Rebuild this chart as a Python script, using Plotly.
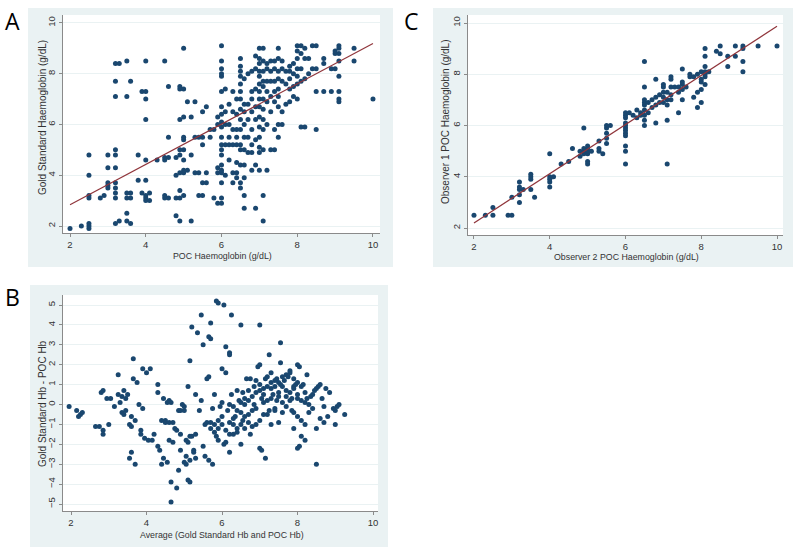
import plotly.graph_objects as go

# ---------------- data ----------------
# Panel A: POC Haemoglobin (x) vs Gold standard Haemoglobin (y)
a_points = [
    (2.0, 1.9), (2.3, 2.0), (2.5, 1.9), (2.5, 2.0), (2.5, 2.1), (2.5, 3.1), (2.5, 3.2), (2.5, 4.0), (2.5, 4.8),
    (2.8, 3.1), (2.9, 3.2), (3.0, 3.5), (3.0, 3.6), (3.0, 3.7), (3.0, 4.3), (3.0, 4.8),
    (3.2, 2.1), (3.2, 3.1), (3.2, 3.3), (3.2, 3.5), (3.2, 3.7), (3.2, 4.3), (3.2, 4.8), (3.2, 5.0),
    (3.2, 7.1), (3.2, 7.7), (3.2, 8.4), (3.3, 8.4), (3.3, 2.2),
    (3.5, 2.2), (3.5, 2.5), (3.5, 3.1), (3.5, 3.3), (3.5, 7.1), (3.5, 8.5),
    (3.6, 2.1), (3.6, 3.1), (3.6, 3.3), (3.6, 7.7), (3.8, 3.8), (3.8, 4.8), (3.9, 3.3), (3.9, 7.3),
    (4.0, 3.0), (4.0, 3.1), (4.0, 3.2), (4.0, 3.8), (4.0, 4.6), (4.0, 6.2), (4.0, 7.0), (4.0, 7.3), (4.0, 8.5),
    (4.1, 3.0), (4.1, 3.3), (4.3, 4.6), (4.5, 3.1), (4.5, 3.2), (4.5, 4.6), (4.5, 4.7), (4.5, 8.5),
    (4.6, 3.1), (4.6, 4.7), (4.6, 5.5), (4.6, 7.5), (4.8, 2.4), (4.8, 3.1), (4.8, 4.0), (4.8, 4.7),
    (4.9, 2.2), (4.9, 3.1), (4.9, 3.4), (4.9, 4.1), (4.9, 4.8), (4.9, 5.0), (4.9, 6.2), (4.9, 7.4), (4.9, 7.5),
    (5.0, 3.2), (5.0, 4.1), (5.0, 4.2), (5.0, 4.6), (5.0, 5.0), (5.0, 5.4), (5.0, 5.5), (5.0, 6.3), (5.0, 7.4), (5.0, 9.0),
    (5.1, 4.2), (5.1, 6.9), (5.2, 2.2), (5.2, 4.8), (5.2, 6.3), (5.3, 5.5), (5.3, 6.9), (5.3, 4.1),
    (5.4, 3.2), (5.4, 4.1), (5.4, 5.5), (5.5, 3.2), (5.5, 3.7), (5.5, 5.2), (5.5, 5.5), (5.5, 6.5),
    (5.6, 3.7), (5.6, 4.1), (5.6, 6.7), (5.7, 5.5), (5.7, 5.8), (5.8, 3.1), (5.8, 5.8),
    (5.9, 2.9), (5.9, 4.1), (5.9, 4.3), (5.9, 6.3), (5.9, 6.0),
    (6.0, 2.9), (6.0, 3.1), (6.0, 3.7), (6.0, 4.1), (6.0, 4.2), (6.0, 4.4), (6.0, 4.8), (6.0, 5.0), (6.0, 5.2),
    (6.0, 5.5), (6.0, 5.9), (6.0, 6.1), (6.0, 6.4), (6.0, 6.7), (6.0, 7.3), (6.0, 7.9), (6.0, 8.0), (6.0, 8.2),
    (6.0, 8.5), (6.0, 9.1),
    (6.1, 4.0), (6.1, 5.2), (6.1, 6.0), (6.1, 6.5), (6.1, 7.4), (6.2, 4.6), (6.2, 5.2), (6.2, 5.5), (6.2, 6.0), (6.2, 6.8),
    (6.3, 3.7), (6.3, 4.1), (6.3, 5.2), (6.3, 5.8), (6.3, 6.5), (6.3, 7.3),
    (6.4, 3.9), (6.4, 4.1), (6.4, 4.5), (6.4, 5.2), (6.4, 5.5), (6.4, 5.8), (6.4, 6.4), (6.4, 7.0),
    (6.5, 3.5), (6.5, 3.7), (6.5, 4.4), (6.5, 5.0), (6.5, 5.2), (6.5, 5.8), (6.5, 6.2), (6.5, 6.6), (6.5, 7.0),
    (6.5, 7.3), (6.5, 7.6), (6.5, 7.9), (6.5, 8.1), (6.5, 8.3), (6.5, 8.6),
    (6.6, 2.7), (6.6, 3.2), (6.6, 3.9), (6.6, 4.4), (6.6, 5.0), (6.6, 5.5), (6.6, 6.0), (6.6, 6.5), (6.6, 6.8), (6.6, 7.8),
    (6.7, 4.9), (6.7, 5.5), (6.7, 6.2), (6.7, 6.8), (6.7, 8.0),
    (6.8, 4.2), (6.8, 4.9), (6.8, 5.2), (6.8, 5.8), (6.8, 6.5), (6.8, 7.0), (6.8, 7.3), (6.8, 8.1),
    (6.9, 2.7), (6.9, 4.4), (6.9, 5.4), (6.9, 6.2), (6.9, 6.7), (6.9, 7.4), (6.9, 8.2), (6.9, 8.7),
    (7.0, 4.2), (7.0, 4.9), (7.0, 5.1), (7.0, 5.5), (7.0, 5.9), (7.0, 6.3), (7.0, 6.7), (7.0, 7.0), (7.0, 7.3),
    (7.0, 7.6), (7.0, 7.9), (7.0, 8.1), (7.0, 8.4), (7.0, 8.6), (7.0, 9.0),
    (7.1, 2.2), (7.1, 3.2), (7.1, 5.0), (7.1, 5.8), (7.1, 6.2), (7.1, 6.6), (7.1, 7.0), (7.1, 7.5), (7.1, 7.7),
    (7.1, 8.1), (7.1, 8.5), (7.1, 9.0),
    (7.2, 4.2), (7.2, 6.0), (7.2, 6.9), (7.2, 7.3), (7.2, 7.7), (7.2, 8.2), (7.2, 8.4),
    (7.3, 5.0), (7.3, 6.5), (7.3, 7.1), (7.3, 7.7), (7.3, 8.1), (7.3, 8.5),
    (7.4, 5.0), (7.4, 5.8), (7.4, 6.9), (7.4, 7.3), (7.4, 7.7), (7.4, 8.2), (7.4, 8.5),
    (7.5, 5.5), (7.5, 6.0), (7.5, 6.7), (7.5, 7.1), (7.5, 7.4), (7.5, 7.8), (7.5, 8.1), (7.5, 8.6), (7.5, 9.0),
    (7.6, 6.0), (7.6, 6.5), (7.6, 7.7), (7.6, 8.2), (7.6, 8.5), (7.7, 6.8), (7.7, 7.6), (7.7, 8.1),
    (7.8, 6.9), (7.8, 7.4), (7.8, 7.8), (7.8, 8.1), (7.8, 8.3), (7.9, 7.1), (7.9, 7.5), (7.9, 8.0), (7.9, 8.4),
    (8.0, 7.0), (8.0, 7.6), (8.0, 7.9), (8.0, 8.2), (8.0, 8.6), (8.0, 8.9), (8.0, 9.1),
    (8.1, 5.9), (8.1, 7.7), (8.1, 8.2), (8.1, 8.8), (8.1, 9.1), (8.2, 5.9), (8.2, 7.8), (8.2, 8.6), (8.2, 9.0),
    (8.3, 8.0), (8.3, 8.6), (8.4, 8.2), (8.4, 9.1), (8.5, 5.8), (8.5, 7.3), (8.5, 8.2), (8.5, 9.1),
    (8.7, 7.3), (8.7, 8.4), (8.7, 8.6), (8.9, 8.2), (8.9, 7.3), (9.0, 8.8), (9.0, 8.9), (9.0, 8.2),
    (9.1, 6.9), (9.1, 7.0), (9.1, 7.3), (9.1, 7.9), (9.1, 8.5), (9.1, 8.8), (9.1, 9.0), (9.1, 9.1),
    (9.5, 8.5), (9.5, 9.0), (10.0, 7.0),
]
a_fit_x = [2.0, 10.0]
a_fit_y = [2.84, 9.19]

# Panel C: Observer 2 POC Hb (x) vs Observer 1 POC Hb (y)
c_points = [
    (2.0, 2.5), (2.3, 2.5), (2.5, 2.5), (2.5, 2.8), (2.9, 2.5), (3.0, 2.5), (3.0, 3.2),
    (3.2, 3.0), (3.2, 3.3), (3.2, 3.5), (3.2, 3.6), (3.2, 3.8), (3.3, 3.5),
    (3.5, 3.5), (3.5, 3.9), (3.5, 4.0), (3.5, 4.1), (3.6, 3.2),
    (4.0, 3.6), (4.0, 3.8), (4.0, 3.9), (4.0, 4.0), (4.0, 4.9), (4.1, 4.0),
    (4.3, 4.5), (4.5, 4.6), (4.6, 5.1),
    (4.8, 4.8), (4.8, 5.0), (4.9, 4.9), (4.9, 5.0), (4.9, 5.1), (4.9, 5.9), (5.0, 4.5), (5.0, 4.6), (5.0, 4.9),
    (5.0, 5.0), (5.0, 5.1), (5.0, 5.2), (5.1, 5.0),
    (5.3, 5.0), (5.3, 5.1), (5.3, 5.4), (5.4, 4.9),
    (5.5, 5.3), (5.5, 5.5), (5.5, 5.7), (5.5, 5.9), (5.5, 6.0), (5.6, 6.0),
    (6.0, 4.5), (6.0, 5.0), (6.0, 5.2), (6.0, 5.6), (6.0, 5.7), (6.0, 5.8), (6.0, 5.9), (6.0, 6.0), (6.0, 6.1),
    (6.0, 6.3), (6.0, 6.4), (6.0, 6.5),
    (6.1, 6.5), (6.2, 6.4), (6.3, 6.3), (6.3, 6.6), (6.4, 6.4), (6.4, 6.5),
    (6.5, 6.0), (6.5, 6.2), (6.5, 6.4), (6.5, 6.6), (6.5, 6.8), (6.5, 6.9), (6.5, 7.0), (6.5, 7.5), (6.5, 8.5),
    (6.6, 6.5), (6.6, 6.9), (6.7, 6.7), (6.7, 7.0), (6.8, 6.1), (6.8, 6.8), (6.8, 7.1), (6.8, 7.8),
    (6.9, 6.9), (6.9, 7.2), (7.0, 6.9), (7.0, 7.1), (7.0, 7.3), (7.0, 7.5), (7.0, 7.6),
    (7.1, 4.5), (7.1, 6.2), (7.1, 6.8), (7.1, 7.0), (7.1, 7.3),
    (7.2, 7.0), (7.2, 7.2), (7.2, 7.5), (7.2, 7.8), (7.2, 7.9), (7.3, 7.5),
    (7.4, 6.5), (7.4, 7.3), (7.4, 7.5), (7.5, 7.0), (7.5, 7.4), (7.5, 7.6), (7.5, 7.7), (7.5, 8.2),
    (7.6, 7.5), (7.7, 7.9), (7.7, 8.0), (7.8, 7.1), (7.8, 7.9), (7.9, 6.7), (7.9, 7.3), (7.9, 8.0),
    (8.0, 6.9), (8.0, 7.4), (8.0, 7.7), (8.0, 7.8), (8.0, 8.1),
    (8.1, 7.6), (8.1, 7.9), (8.1, 8.0), (8.1, 8.1), (8.1, 8.3), (8.1, 8.7), (8.1, 9.0), (8.2, 8.1),
    (8.4, 8.9), (8.5, 8.8), (8.5, 9.1), (8.7, 8.3), (8.7, 8.7), (8.9, 8.7), (8.9, 9.1),
    (9.1, 8.1), (9.1, 8.5), (9.1, 9.0), (9.1, 9.1), (9.5, 9.1), (10.0, 9.1),
]
c_fit_x = [2.0, 10.0]
c_fit_y = [2.2, 9.87]

# Panel B: Bland-Altman, average (x) vs difference (y)
b_points = [
    (1.95, -0.1), (2.15, -0.3), (2.2, -0.6), (2.25, -0.5), (2.3, -0.4),
    (2.65, -1.1), (2.75, -1.1), (2.85, -1.3), (2.85, -1.5), (2.8, 0.6), (2.85, 0.7),
    (2.95, 0.3), (3.05, 0.3), (3.0, -1.0),
    (3.15, -0.1), (3.25, 1.5), (3.25, 0.5), (3.3, 0.1), (3.35, 0.4), (3.35, -0.4), (3.4, 0.7), (3.45, 0.3),
    (3.45, -0.3), (3.5, 0.5), (3.4, -0.5),
    (3.55, -1.0), (3.6, -1.1), (3.55, -2.7), (3.6, -2.4), (3.65, 2.3), (3.65, 1.3), (3.6, -0.6), (3.7, -0.8),
    (3.7, -3.0), (3.75, 1.1),
    (3.8, 0.0), (3.85, -1.3), (3.85, -1.5), (3.9, 1.8), (3.9, -0.2), (3.95, -1.7), (4.0, 1.6), (4.05, -1.8),
    (4.1, 1.8), (4.15, -1.8), (4.2, -1.5),
    (4.3, -2.1), (4.35, -2.3), (4.3, 1.0), (4.3, 0.6), (4.4, -0.8), (4.4, -3.0), (4.45, -2.7), (4.45, 0.3),
    (4.5, -0.8), (4.5, -0.9), (4.55, -2.9), (4.55, 0.1), (4.6, 0.2), (4.6, -0.9), (4.6, -1.8), (4.65, -3.9),
    (4.65, -4.9), (4.65, 0.1), (4.7, -1.9), (4.7, -0.9), (4.75, -1.2),
    (4.8, -1.3), (4.8, -4.2), (4.85, -3.3), (4.85, -0.3), (4.9, -0.3), (4.9, -2.3), (4.9, -1.5), (4.95, 0.0),
    (5.0, -2.9), (5.0, -0.1), (5.0, -0.3), (5.05, -3.0), (5.05, -1.8), (5.05, -2.6), (5.1, 0.9), (5.1, -1.9),
    (5.15, -1.6), (5.15, -2.8), (5.1, -3.8), (5.15, -3.9), (5.15, 2.2), (5.2, -1.6), (5.2, 3.9), (5.25, -2.3),
    (5.25, -2.4), (5.3, 0.5), (5.3, -1.5), (5.3, -2.7), (5.35, 3.6),
    (5.4, -0.3), (5.45, 4.5), (5.5, 3.0), (5.45, 0.2), (5.5, -2.1), (5.55, -2.6), (5.55, -1.0), (5.6, -0.9),
    (5.6, 1.3), (5.65, 1.4), (5.65, 3.4), (5.7, 3.3), (5.7, 4.1), (5.65, -2.8), (5.75, -3.0), (5.7, -1.2),
    (5.75, -0.2), (5.8, 0.5), (5.8, -1.4), (5.85, 5.2), (5.9, 5.1), (5.85, -1.6), (5.9, -0.8), (5.9, -1.8),
    (5.95, -0.1), (6.0, 1.8), (6.0, -0.6), (6.05, 5.0), (6.05, -2.0), (6.1, 2.9), (6.1, 1.6), (6.1, -1.9),
    (6.15, -0.3), (6.2, 2.6), (6.2, 2.5), (6.2, -2.4), (6.2, -1.5), (6.25, 4.5), (6.25, 0.5), (6.3, -1.5),
    (6.3, -0.1), (6.35, -0.6), (6.4, 0.7), (6.4, -1.2), (6.45, 0.2), (6.5, -0.4), (6.5, 4.0), (6.5, -2.0),
    (6.55, 0.6), (6.55, -0.8), (6.6, -1.2), (6.6, 0.0), (6.65, 1.3), (6.7, -0.5), (6.7, 0.7), (6.75, 1.3),
    (6.75, -1.5), (6.8, -0.3), (6.85, 0.0), (6.85, 0.9), (6.9, -0.2), (6.95, 1.9), (7.0, 2.0), (7.0, 4.0),
    (7.0, -2.2), (7.05, -2.3), (7.05, 0.3), (7.1, 0.5), (7.1, -0.5), (7.15, 1.3), (7.15, -2.7), (7.2, 0.2),
    (7.2, 1.4), (7.25, 2.5), (7.25, -0.3), (7.3, 0.8), (7.3, 1.6), (7.3, -1.0), (7.35, 0.5), (7.4, 0.9),
    (7.4, -0.3), (7.45, 1.3), (7.45, 0.2), (7.5, -0.9), (7.5, 0.6), (7.55, 3.1), (7.55, 2.1), (7.55, 1.0),
    (7.6, 0.9), (7.6, -0.4), (7.65, 1.2), (7.7, 0.4), (7.7, -0.1), (7.75, 1.4), (7.8, 1.7), (7.8, 1.6),
    (7.8, 0.6), (7.85, 0.3), (7.85, -0.3), (7.9, -1.2), (7.9, 0.9), (7.95, 1.0), (8.0, 2.0), (8.0, -2.2),
    (8.0, 0.5), (8.05, 1.9), (8.05, -2.1), (8.1, 0.2), (8.1, -1.6), (8.15, 1.0), (8.2, -1.8), (8.25, 1.5),
    (8.25, 0.3), (8.3, -0.4), (8.35, 0.4), (8.4, 0.5), (8.45, 0.7), (8.5, 0.8), (8.5, -1.2), (8.5, -3.0),
    (8.55, 0.9), (8.6, 1.0), (8.6, -0.7), (8.65, 0.3), (8.7, -0.9), (8.7, -0.1), (8.75, 0.8), (8.8, -0.6),
    (8.85, 0.6), (8.95, -0.2), (9.0, -0.3), (9.0, -1.0), (9.05, -0.1), (9.1, 0.0), (9.25, -0.5),
    (6.2, -0.9), (6.3, -0.7), (6.4, -0.3), (6.5, 0.1), (6.6, 0.3), (6.7, 0.2), (6.8, 0.4), (6.9, 0.6),
    (7.0, 0.7), (7.1, 0.8), (7.2, 0.9), (7.3, 1.1), (7.4, 1.2), (7.5, 1.1), (6.6, -0.6), (6.7, -0.9),
    (6.8, -1.1), (6.9, -1.0), (7.0, -0.8), (7.2, -0.5), (7.4, -0.2), (7.6, 0.1), (7.8, 0.2), (8.0, 0.3),
    (8.2, 0.6), (7.1, 0.1), (7.3, 0.3), (7.5, 0.4), (7.7, 0.7), (7.9, 0.8), (8.1, 0.9), (6.3, -1.0),
    (6.4, -1.4), (6.5, -1.0), (5.9, -1.2), (6.0, -1.0), (6.1, -1.3), (5.8, -1.0), (5.7, -0.9), (6.2, 0.0),
    (6.0, 0.1), (6.9, 1.2), (7.0, 1.0), (7.6, 1.4), (7.7, 1.5), (7.9, 1.3), (8.0, 1.1), (8.2, 0.1),
    (8.3, 0.0), (8.4, -0.2), (7.9, -0.4), (8.0, -0.6), (8.1, -0.8), (8.2, -1.0),
]

hb_ticks = [2, 4, 6, 8, 10]
diff_ticks = [-5, -4, -3, -2, -1, 0, 1, 2, 3, 4, 5]

# ---------------- styling ----------------
W, H = 800, 550
DOT = "#1a476f"
FIT = "#90353b"
PANEL_BG = "#eaf2f3"
GRID = "#eaf2f3"
AXIS = "#8a8a8a"
TXT = "#333333"
FONT = "Liberation Sans, Arial, sans-serif"


def fx(px):
    return px / W


def fy(py):
    return 1 - py / H


fig = go.Figure()


def add_scatter(points, xa, ya):
    fig.add_trace(go.Scatter(
        x=[p[0] for p in points], y=[p[1] for p in points], mode="markers",
        marker=dict(color=DOT, size=5, line=dict(width=0)),
        xaxis=xa, yaxis=ya, showlegend=False, hoverinfo="skip"))


def add_fit(xs, ys, xa, ya):
    fig.add_trace(go.Scatter(
        x=xs, y=ys, mode="lines", line=dict(color=FIT, width=1.2),
        xaxis=xa, yaxis=ya, showlegend=False, hoverinfo="skip"))


add_scatter(a_points, "x", "y")
add_fit(a_fit_x, a_fit_y, "x", "y")
add_scatter(c_points, "x2", "y2")
add_fit(c_fit_x, c_fit_y, "x2", "y2")
add_scatter(b_points, "x3", "y3")


def xaxis(domain, rng, anchor):
    return dict(domain=domain, range=rng, anchor=anchor, tickvals=hb_ticks,
                showgrid=False, zeroline=False, showline=True, linecolor=AXIS, linewidth=1,
                ticks="outside", ticklen=3, tickcolor=AXIS,
                tickfont=dict(family=FONT, size=9.5, color=TXT))


def yaxis(domain, rng, ticks, anchor):
    return dict(domain=domain, range=rng, anchor=anchor, tickvals=ticks, tickangle=-90,
                showgrid=True, gridcolor=GRID, gridwidth=1, zeroline=False,
                showline=True, linecolor=AXIS, linewidth=1,
                ticks="outside", ticklen=3, tickcolor=AXIS,
                tickfont=dict(family=FONT, size=9.5, color=TXT))


fig.update_layout(
    width=W, height=H, margin=dict(l=0, r=0, t=0, b=0),
    paper_bgcolor="white", plot_bgcolor="rgba(0,0,0,0)",
    xaxis=xaxis([fx(63), fx(380)], [1.815, 10.185], "y"),
    yaxis=yaxis([fy(233), fy(15)], [1.724, 10.315], hb_ticks, "x"),
    xaxis2=xaxis([fx(468), fx(783)], [1.842, 10.158], "y2"),
    yaxis2=yaxis([fy(235), fy(15)], [1.727, 10.312], hb_ticks, "x2"),
    xaxis3=xaxis([fx(63), fx(378)], [1.788, 10.132], "y3"),
    yaxis3=yaxis([fy(511), fy(295)], [-5.352, 5.503], diff_ticks, "x3"),
)

# panel backgrounds and white plot regions
shapes = []
for (x0, y0, x1, y1), (px0, py0, px1, py1) in [
    ((28, 8, 393, 267), (63, 15, 380, 233)),
    ((433, 8, 793, 267), (468, 15, 783, 235)),
    ((30, 285, 388, 547), (63, 295, 378, 511)),
]:
    shapes.append(dict(type="rect", xref="paper", yref="paper", x0=fx(x0), x1=fx(x1), y0=fy(y1), y1=fy(y0),
                       fillcolor=PANEL_BG, line=dict(width=0), layer="below"))
    shapes.append(dict(type="rect", xref="paper", yref="paper", x0=fx(px0), x1=fx(px1), y0=fy(py1), y1=fy(py0),
                       fillcolor="white", line=dict(width=0), layer="below"))
fig.update_layout(shapes=shapes)

# axis titles (x titles are narrower in the reference than the vertical ones)
for text, px, py, ang, size in [
    ("POC Haemoglobin (g/dL)", 222, 256, 0, 8.8),
    ("Gold Standard Haemoglobin (g/dL)", 42, 118, -90, 10),
    ("Observer 2 POC Haemoglobin (g/dL)", 626, 257, 0, 8.8),
    ("Observer 1 POC Haemoglobin (g/dL)", 446, 122, -90, 10),
    ("Average (Gold Standard Hb and POC Hb)", 222, 535, 0, 8.8),
    ("Gold Standard Hb - POC Hb", 42, 404, -90, 10),
]:
    fig.add_annotation(text=text, xref="paper", yref="paper", x=fx(px), y=fy(py), textangle=ang,
                       showarrow=False, xanchor="center", yanchor="middle",
                       font=dict(family=FONT, size=size, color=TXT))

# panel letters
for letter, px, py in [("A", 12, 21), ("C", 411, 21), ("B", 12, 297)]:
    fig.add_annotation(text=letter, xref="paper", yref="paper", x=fx(px), y=fy(py),
                       showarrow=False, xanchor="center", yanchor="middle",
                       font=dict(family="Open Sans, Liberation Sans, sans-serif", size=23, color="black"))

# remove the browser's default 8px body margin so the figure sits at the window's corner
fig.write_html("out.html", config={"displayModeBar": False},
               post_script="document.body.style.margin='0';")
